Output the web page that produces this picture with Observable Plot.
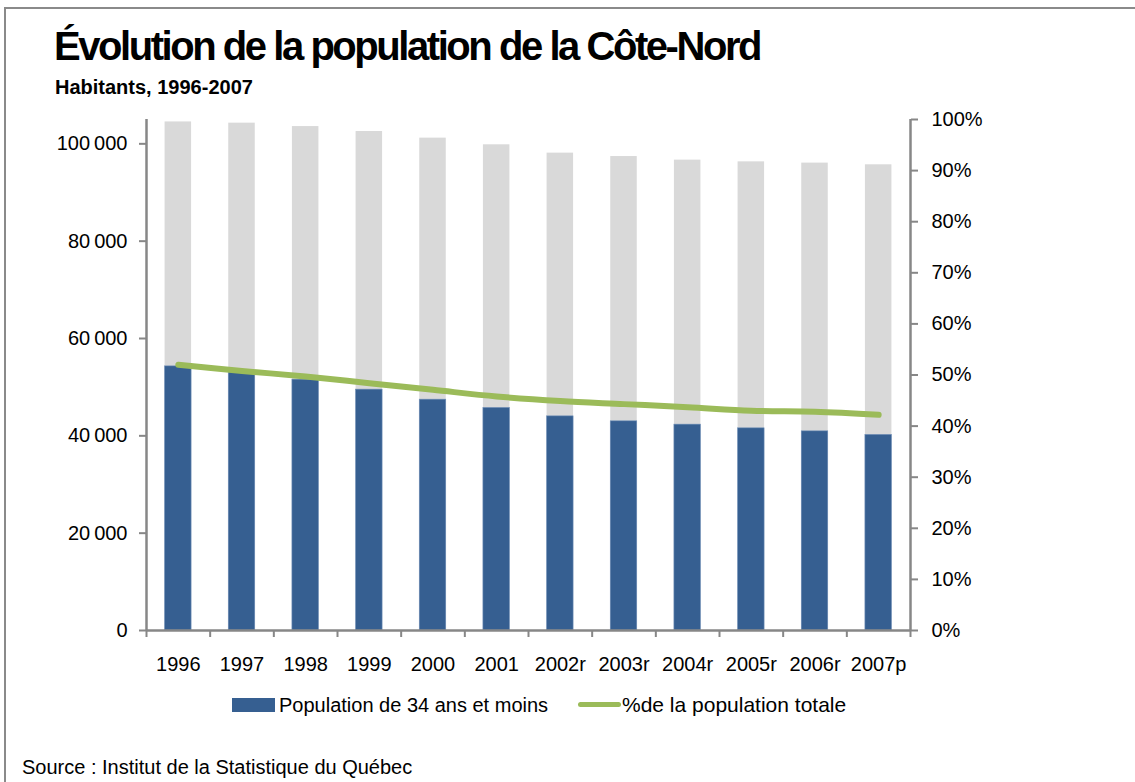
<!DOCTYPE html>
<html>
<head>
<meta charset="utf-8">
<script src="https://cdn.jsdelivr.net/npm/d3@7"></script>
<script src="https://cdn.jsdelivr.net/npm/@observablehq/plot@0.6"></script>
<style>
  html, body { margin: 0; padding: 0; background: #fff; }
  body { width: 1135px; height: 782px; position: relative; overflow: hidden; font-family: "Liberation Sans", Arial, sans-serif; }
  #frame { position: absolute; left: 4px; top: 7px; right: 0; bottom: -10px; border-top: 2px solid #8a8a8a; border-left: 2px solid #8a8a8a; }
  #title { position: absolute; left: 54px; top: 26px; font-weight: bold; font-size: 40px; letter-spacing: -2.45px; white-space: nowrap; line-height: 1; color: #000; }
  #subtitle { position: absolute; left: 55px; top: 77px; font-weight: bold; font-size: 20px; letter-spacing: 0px; white-space: nowrap; line-height: 1; color: #000; }
  #chart { position: absolute; left: 0; top: 100px; }
  #legend { position: absolute; left: 0; top: 694px; width: 1135px; height: 24px; font-size: 20px; color: #000; }
  .lg { position: absolute; top: 0; white-space: nowrap; line-height: 22px; }
  .sw-bar { position: absolute; left: 232px; top: 4px; width: 43px; height: 14px; background: #365f91; }
  .sw-line { position: absolute; left: 578px; top: 8px; width: 43px; height: 5px; background: #9bbb59; border-radius: 3px; }
  #source { position: absolute; left: 22px; top: 757px; font-size: 20px; letter-spacing: 0px; white-space: nowrap; line-height: 1; color: #000; }
</style>
</head>
<body>
<div id="frame"></div>
<div id="title">Évolution de la population de la Côte-Nord</div>
<div id="subtitle">Habitants, 1996-2007</div>
<div id="chart"></div>
<div id="legend">
  <div class="sw-bar"></div>
  <div class="lg" style="left:279px">Population de 34 ans et moins</div>
  <div class="sw-line"></div>
  <div class="lg" style="left:622px; font-size:21px">%de la population totale</div>
</div>
<div id="source">Source : Institut de la Statistique du Québec</div>
<script>
const years = ["1996","1997","1998","1999","2000","2001","2002r","2003r","2004r","2005r","2006r","2007p"];
const totalPop = [104500, 104250, 103550, 102530, 101170, 99800, 98090, 97390, 96650, 96300, 96040, 95690];
const youngPop = [54270, 53180, 51540, 49490, 47430, 45730, 44000, 42980, 42300, 41540, 40920, 40190];
const pctYoung = [52.0, 50.8, 49.7, 48.4, 47.1, 45.8, 44.9, 44.3, 43.7, 43.0, 42.8, 42.2];
const leftTicks = [0, 20000, 40000, 60000, 80000, 100000];
const rightTicks = [0, 10, 20, 30, 40, 50, 60, 70, 80, 90, 100];

const yMax = 105000;
const data = years.map((y, i) => ({year: y, total: totalPop[i], young: youngPop[i], pct: pctYoung[i]}));

const W = 1135, H = 580, mL = 146, mR = 225, mT = 19, mB = 50;
const step = (W - mL - mR) / years.length;
const inset = (step - 26.5) / 2;
const axisColor = "#878787";
const fmt = d => d3.format(",")(d).replace(/,/g, "\u2009");

const chart = Plot.plot({
  width: W, height: H,
  marginLeft: mL, marginRight: mR, marginTop: mT, marginBottom: mB,
  style: {fontFamily: "'Liberation Sans', Arial, sans-serif", fontSize: "20px", color: "#000", background: "transparent", overflow: "visible"},
  x: {domain: years, padding: 0, round: false, label: null},
  y: {domain: [0, yMax], label: null},
  marks: [
    Plot.barY(data, {x: "year", y: "total", fill: "#d9d9d9", insetLeft: inset, insetRight: inset}),
    Plot.barY(data, {x: "year", y: "young", fill: "#365f91", stroke: "#6f8fb8", strokeWidth: 0.6, insetLeft: inset, insetRight: inset}),
    Plot.line(data, {x: "year", y: d => d.pct / 100 * yMax, stroke: "#9bbb59", strokeWidth: 6, curve: "catmull-rom", strokeLinecap: "round", strokeLinejoin: "round"}),
    Plot.ruleY([0], {stroke: axisColor, strokeWidth: 2.5}),
    Plot.ruleX([years[0]], {y1: 0, y2: yMax, dx: -step / 2, stroke: axisColor, strokeWidth: 2.5}),
    Plot.ruleX([years[years.length - 1]], {y1: 0, y2: yMax, dx: step / 2, stroke: axisColor, strokeWidth: 2.5}),
    Plot.axisY({anchor: "left", ticks: leftTicks, tickFormat: fmt, tickSize: 7, tickPadding: 12, stroke: axisColor, strokeWidth: 2, fill: "#000"}),
    Plot.axisY({anchor: "right", ticks: rightTicks.map(p => p / 100 * yMax), tickFormat: d => Math.round(d / yMax * 100) + "%", tickSize: 7, tickPadding: 14, stroke: axisColor, strokeWidth: 2, fill: "#000"}),
    Plot.axisX({ticks: years, tickSize: 7, tickFormat: () => "", dx: -step / 2, stroke: axisColor, strokeWidth: 2}),
    Plot.axisX({ticks: [years[years.length - 1]], tickSize: 7, tickFormat: () => "", dx: step / 2, stroke: axisColor, strokeWidth: 2}),
    Plot.axisX({ticks: years, tickSize: 0, tickPadding: 26, fill: "#000"})
  ]
});
document.getElementById("chart").appendChild(chart);
</script>
</body>
</html>
